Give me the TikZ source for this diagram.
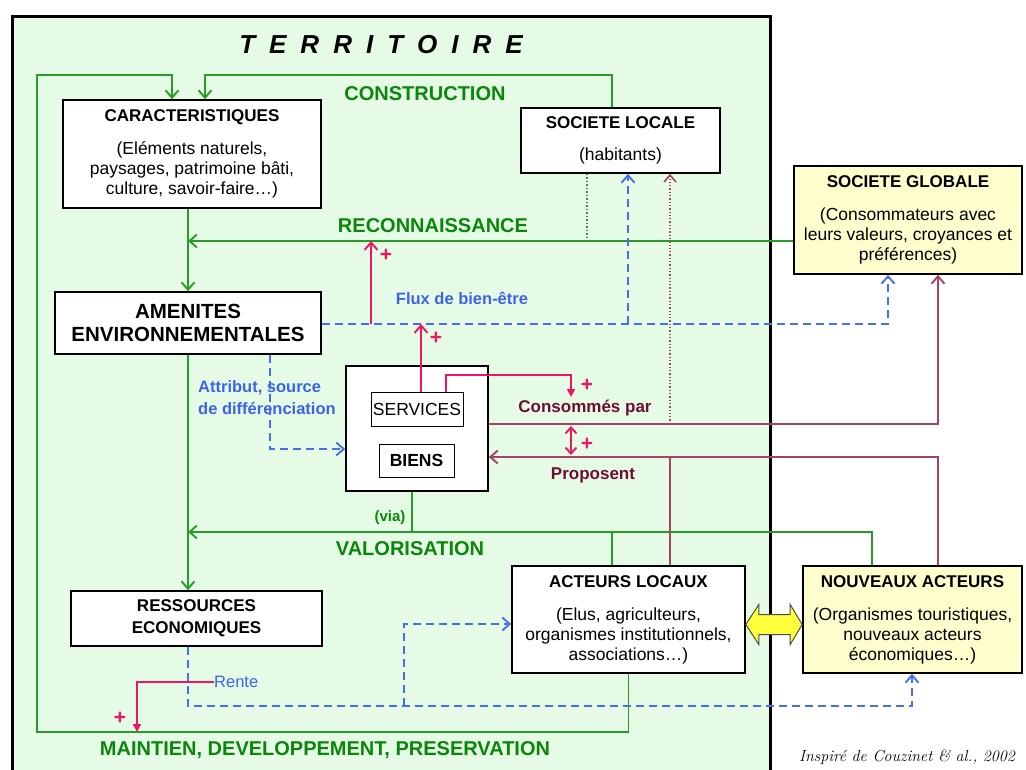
\documentclass[tikz,border=0pt]{standalone}
\usepackage{fontspec}
\setsansfont{Liberation Sans}
\renewcommand{\familydefault}{\sfdefault}
\usetikzlibrary{arrows.meta,calc}

\definecolor{terrfill}{RGB}{230,251,230}
\definecolor{ylw}{RGB}{255,255,206}
\definecolor{lgreen}{RGB}{40,155,40}
\definecolor{tgreen}{RGB}{10,135,10}
\definecolor{blu}{RGB}{70,110,240}
\definecolor{blut}{RGB}{60,100,235}
\definecolor{pnk}{RGB}{240,20,100}
\definecolor{mar}{RGB}{160,70,100}
\definecolor{mart}{RGB}{110,15,50}
\definecolor{arrowyellow}{RGB}{255,255,60}

\newcommand{\ttl}[1]{{\bfseries\fontsize{17}{20}\selectfont #1}}

\tikzset{
  box/.style={draw=black, line width=1.6pt, fill=white, align=center, inner sep=0pt,
    font=\fontsize{17.5}{20}\selectfont},
  ybox/.style={box, fill=ylw},
  inbox/.style={draw=black, line width=1pt, fill=white, inner sep=0pt,
    font=\fontsize{17.5}{20}\selectfont},
  barb/.style={-{Straight Barb[length=7.5pt,width=13pt,line width=1.9pt]}},
  gline/.style={draw=lgreen, line width=1.9pt},
  gdot/.style={draw=lgreen, line width=1.5pt, dotted},
  bline/.style={draw=blu, line width=1.9pt, dash pattern=on 8pt off 5pt},
  pline/.style={draw=pnk, line width=1.9pt},
  mline/.style={draw=mar, line width=1.9pt},
  mdot/.style={draw=mar, line width=1.3pt, dotted},
  glabel/.style={text=tgreen, font=\bfseries\fontsize{20}{22}\selectfont},
  blabel/.style={text=blut, font=\bfseries\fontsize{16.5}{22}\selectfont},
  mlabel/.style={text=mart, font=\bfseries\fontsize{17}{20}\selectfont},
  plus/.style={text=pnk, font=\bfseries\fontsize{21}{22}\selectfont},
}

\begin{document}
\begin{tikzpicture}[x=1pt,y=-1pt]
\useasboundingbox (0,0) rectangle (1026,769);
\clip (0,0) rectangle (1026,769);
\fill[white] (0,0) rectangle (1026,769);

% territory frame
\draw[line width=3pt, fill=terrfill] (12,16) rectangle (770,800);
\node[font=\bfseries\itshape\fontsize{26}{26}\selectfont] (terr) at (381,45)
  {T\kern14pt E\kern14pt R\kern14pt R\kern14pt I\kern14pt T\kern14pt O\kern14pt I\kern14pt R\kern14pt E};

% boxes
\node[box, minimum width=258pt, minimum height=108pt] (car) at (192,154)
  {\ttl{CARACTERISTIQUES}\\[13pt](Eléments naturels,\\paysages, patrimoine bâti,\\culture, savoir-faire…)};
\node[box, minimum width=199pt, minimum height=65pt] (sl) at (620.5,140.5)
  {\ttl{SOCIETE LOCALE}\\[12pt](habitants)};
\node[ybox, minimum width=228pt, minimum height=108pt] (sg) at (908,220)
  {\ttl{SOCIETE GLOBALE}\\[13pt](Consommateurs avec\\leurs valeurs, croyances et\\préférences)};
\node[box, minimum width=266pt, minimum height=62pt,
  font=\bfseries\fontsize{20.5}{23}\selectfont] (am) at (188,323)
  {AMENITES\\ENVIRONNEMENTALES};
\node[box, minimum width=142pt, minimum height=125pt] (sb) at (417,428.5) {};
\node[inbox, minimum width=92pt, minimum height=34pt] (sv) at (417,409) {SERVICES};
\node[inbox, minimum width=75pt, minimum height=33pt, font=\bfseries\fontsize{17.5}{20}\selectfont]
  (bi) at (416.5,460.5) {BIENS};
\node[box, minimum width=233pt, minimum height=107pt] (al) at (628.5,619.5)
  {\ttl{ACTEURS LOCAUX}\\[13pt](Elus, agriculteurs,\\organismes institutionnels,\\associations…)};
\node[ybox, minimum width=219pt, minimum height=107pt] (na) at (912.5,619.5)
  {\ttl{NOUVEAUX ACTEURS}\\[13pt](Organismes touristiques,\\nouveaux acteurs\\économiques…)};
\node[box, minimum width=251pt, minimum height=55pt,
  font=\bfseries\fontsize{17}{22}\selectfont] (res) at (196.5,618.5)
  {RESSOURCES\\ECONOMIQUES};

% labels
\node[glabel] (lcons) at (425,94) {CONSTRUCTION};
\node[glabel] (lreco) at (433,226) {RECONNAISSANCE};
\node[glabel] (lval) at (410,549) {VALORISATION};
\node[glabel] (lmain) at (325,750) {MAINTIEN, DEVELOPPEMENT, PRESERVATION};
\node[text=tgreen, font=\bfseries\fontsize{15}{18}\selectfont] (lvia) at (390,518) {(via)};
\node[blabel] (lflux) at (462,298) {Flux de bien-être};
\node[blabel, anchor=west, align=left, inner sep=0pt] (lattr) at (198,398)
  {Attribut, source\\de différenciation};
\node[blabel, anchor=west, inner sep=0pt, font=\fontsize{16.5}{20}\selectfont] (lrente) at (214,682) {Rente};
\node[mlabel] (lcons2) at (585,408) {Consommés par};
\node[mlabel] (lprop) at (593,475) {Proposent};
\node[plus] (p1) at (386,255) {+};
\node[plus] (p2) at (436,338) {+};
\node[plus] (p3) at (587,385) {+};
\node[plus] (p4) at (587,444) {+};
\node[plus] (p5) at (120,718) {+};
\node[font=\rmfamily\itshape\fontsize{16}{18}\selectfont] (cite) at (907,757)
  {Inspiré de Couzinet \& al., 2002};

% green flows
\draw[gline, barb] (al.south) -- (al.south |- 0,732) -- (37,732) -- (37,75) -- (172,75) -- (car.north -| 172,0);
\draw[gline, barb] (sl.north -| 612,0) -- (612,75) -- (205,75) -- (car.north -| 205,0);
\draw[gline, barb] (car.south -| am.north) -- (am.north);
\draw[gline, barb] (am.south) -- (res.north -| am.south);
\draw[gline, barb] (sg.west |- 0,241) -- (am.north |- 0,241);
\draw[gdot] (sl.south -| 587,0) -- (587,241);
\draw[gline] (na.north -| 872,0) -- (872,532) -- (412,532);
\draw[gline] (al.north -| 612,0) -- (612,532);
\draw[gline, barb] (sb.south -| 412,0) -- (412,532) -- (am.south |- 0,532);

% blue flows
\draw[bline, barb] (am.east |- 0,324) -- (888,324) -- (sg.south -| 888,0);
\draw[bline, barb] (628,324) -- (sl.south -| 628,0);
\draw[bline, barb] (am.south -| 270,0) -- (270,449) -- (sb.west |- 0,449);
\draw[bline, barb] (res.south -| 188,0) -- (188,706) -- (912,706) -- (na.south -| 912,0);
\draw[bline, barb] (404,706) -- (404,624) -- (al.west |- 0,624);

% pink effects
\draw[pline, barb] (371,324) -- (371,241);
\draw[pline, barb] (sv.north -| 421,0) -- (421,324);
\draw[pline, -{Triangle[length=8pt,width=8pt]}] (sv.north -| 446,0) -- (446,375) -- (571,375) -- (571,397);
\draw[pline, {Straight Barb[length=6pt,width=11pt,line width=1.9pt]}-{Straight Barb[length=6pt,width=11pt,line width=1.9pt]}] (571,426) -- (571,455);
\draw[pline, -{Triangle[length=8pt,width=8pt]}] (lrente.west) -- (137,682) -- (137,732);

% maroon exchanges
\draw[mline, barb] (sb.east |- 0,424) -- (938,424) -- (sg.south -| 938,0);
\draw[mdot, -{Straight Barb[length=7pt,width=12pt,line width=1.6pt]}] (670,424) -- (sl.south -| 670,0);
\draw[mline, barb] (na.north -| 938,0) -- (938,457) -- (sb.east |- 0,457);
\draw[mline] (al.north -| 670,0) -- (670,457);

% two-way link between local and new actors
\coordinate (ya) at ($(al.east)+(0,5)$);
\coordinate (yb) at ($(na.west)+(0,5)$);
\draw[draw=black!70, line width=1pt, fill=arrowyellow]
  (ya) -- ($(ya)+(13,-20)$) -- ($(ya)+(13,-10)$) -- ($(yb)+(-12,-10)$) -- ($(yb)+(-12,-20)$)
  -- (yb) -- ($(yb)+(-12,20)$) -- ($(yb)+(-12,10)$) -- ($(ya)+(13,10)$) -- ($(ya)+(13,20)$) -- cycle;
\end{tikzpicture}
\end{document}
